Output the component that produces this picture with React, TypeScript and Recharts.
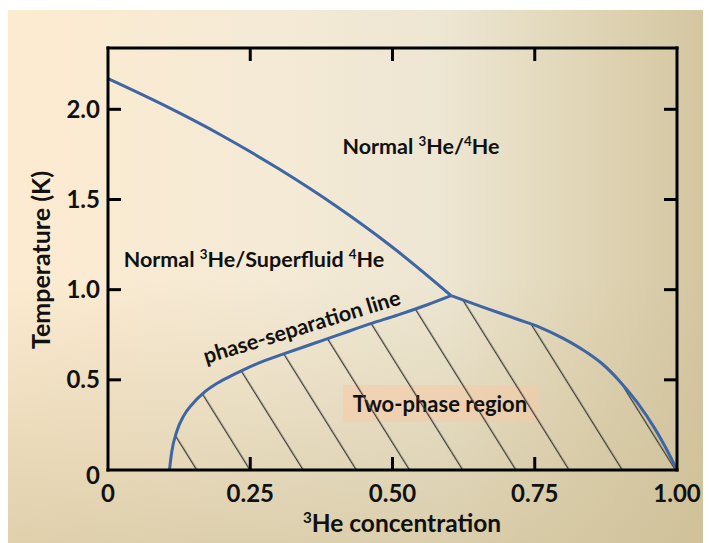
import React from 'react';
import {
  ComposedChart,
  Area,
  Line,
  XAxis,
  YAxis,
  Customized,
} from 'recharts';

// Axis ticks and their printed labels
const xTicks = [0, 0.25, 0.5, 0.75, 1];
const xTickLabels = ['0', '0.25', '0.50', '0.75', '1.00'];
const yTicks = [0, 0.5, 1, 1.5, 2];
const yTickLabels = ['0', '0.5', '1.0', '1.5', '2.0'];

// Lambda line: superfluid transition temperature vs 3He fraction
const lambdaLine = [
  { x: 0, t: 2.17 },
  { x: 0.1, t: 2.02 },
  { x: 0.2, t: 1.855 },
  { x: 0.3, t: 1.67 },
  { x: 0.4, t: 1.465 },
  { x: 0.5, t: 1.235 },
  { x: 0.603, t: 0.967 },
];

// Phase-separation line, 4He-rich branch (rises to the tricritical point)
const separationLeft = [
  { x: 0.108, t: 0 },
  { x: 0.112, t: 0.1 },
  { x: 0.121, t: 0.215 },
  { x: 0.133, t: 0.3 },
  { x: 0.148, t: 0.365 },
  { x: 0.167, t: 0.425 },
  { x: 0.189, t: 0.475 },
  { x: 0.212, t: 0.515 },
  { x: 0.238, t: 0.555 },
  { x: 0.27, t: 0.6 },
  { x: 0.31, t: 0.645 },
  { x: 0.36, t: 0.7 },
  { x: 0.41, t: 0.755 },
  { x: 0.46, t: 0.81 },
  { x: 0.51, t: 0.86 },
  { x: 0.56, t: 0.915 },
  { x: 0.603, t: 0.967 },
];

// Phase-separation line, 3He-rich branch (falls to pure 3He at T = 0)
const separationRight = [
  { x: 0.603, t: 0.967 },
  { x: 0.66, t: 0.902 },
  { x: 0.722, t: 0.833 },
  { x: 0.76, t: 0.79 },
  { x: 0.8, t: 0.73 },
  { x: 0.84, t: 0.655 },
  { x: 0.87, t: 0.585 },
  { x: 0.9, t: 0.49 },
  { x: 0.93, t: 0.375 },
  { x: 0.96, t: 0.235 },
  { x: 0.98, t: 0.125 },
  { x: 1.0, t: 0 },
];

const FONT = 'Lato, "Open Sans", sans-serif';
const INK = '#111';
const LINE_BLUE = '#3f66a4';
const FRAME = { stroke: '#000', strokeWidth: 3, strokeLinecap: 'square' as const };
const TICK_LEN = 13;
const X_MARGIN = 15;
const Y_MARGIN = 8;
const TICK_FONT = 24;

const W = 703;
const H = 535;

function BottomTick(props: any) {
  const { x, y, payload } = props;
  const i = xTicks.indexOf(payload.value);
  const axisY = y - X_MARGIN;
  const inner = i > 0 && i < xTicks.length - 1;
  return (
    <g>
      {inner && (
        <line x1={x} x2={x} y1={axisY} y2={axisY - TICK_LEN} stroke="#000" strokeWidth={3} />
      )}
      <text
        x={x}
        y={y}
        dy="0.71em"
        textAnchor="middle"
        fontFamily={FONT}
        fontWeight={700}
        fontSize={TICK_FONT}
        fill={INK}
      >
        {xTickLabels[i]}
      </text>
    </g>
  );
}

function LeftTick(props: any) {
  const { x, y, payload } = props;
  const i = yTicks.indexOf(payload.value);
  const axisX = x + Y_MARGIN;
  const inner = i > 0;
  return (
    <g>
      {inner && (
        <line x1={axisX} x2={axisX + TICK_LEN} y1={y} y2={y} stroke="#000" strokeWidth={3} />
      )}
      <text
        x={x}
        y={inner ? y : y + 5}
        dy="0.36em"
        textAnchor="end"
        fontFamily={FONT}
        fontWeight={700}
        fontSize={TICK_FONT}
        fill={INK}
      >
        {yTickLabels[i]}
      </text>
    </g>
  );
}

function TopTick(props: any) {
  const { x, y, payload } = props;
  const i = xTicks.indexOf(payload.value);
  if (i <= 0 || i >= xTicks.length - 1) return <g />;
  return <line x1={x} x2={x} y1={y} y2={y + TICK_LEN} stroke="#000" strokeWidth={3} />;
}

function RightTick(props: any) {
  const { x, y, payload } = props;
  const i = yTicks.indexOf(payload.value);
  if (i <= 0) return <g />;
  return <line x1={x} x2={x - TICK_LEN} y1={y} y2={y} stroke="#000" strokeWidth={3} />;
}

// Text with raised isotope numbers, e.g. parts = ['Normal ', ['3'], 'He/', ['4'], 'He']
function Iso({ parts, size }: { parts: (string | string[])[]; size: number }) {
  const out: React.ReactNode[] = [];
  let raised = false;
  parts.forEach((p, k) => {
    if (Array.isArray(p)) {
      out.push(
        <tspan key={k} fontSize={size * 0.62} dy={-size * 0.36}>
          {p[0]}
        </tspan>
      );
      raised = true;
    } else {
      out.push(
        <tspan key={k} dy={raised ? size * 0.36 : 0}>
          {p}
        </tspan>
      );
      raised = false;
    }
  });
  return <>{out}</>;
}

function Captions() {
  const common = { fontFamily: FONT, fontWeight: 700, fill: INK } as const;
  return (
    <g>
      <text {...common} x={413} y={146} fontSize={21.5} textAnchor="middle">
        <Iso size={21.5} parts={['Normal ', ['3'], 'He/', ['4'], 'He']} />
      </text>
      <text {...common} x={246} y={259} fontSize={21.5} textAnchor="middle">
        <Iso size={21.5} parts={['Normal ', ['3'], 'He/Superfluid ', ['4'], 'He']} />
      </text>
      <text
        {...common}
        x={296}
        y={326}
        fontSize={21.5}
        textAnchor="middle"
        transform="rotate(-17 296 326)"
      >
        phase-separation line
      </text>
      <rect x={335} y={377} width={194} height={37} fill="#f6cba6" fillOpacity={0.55} />
      <text {...common} x={432} y={404} fontSize={22} textAnchor="middle">
        Two-phase region
      </text>
      <text
        {...common}
        x={32}
        y={252}
        fontSize={25}
        textAnchor="middle"
        dominantBaseline="central"
        transform="rotate(-90 32 252)"
      >
        Temperature (K)
      </text>
      <text {...common} x={394} y={524} fontSize={24.5} textAnchor="middle">
        <Iso size={24.5} parts={[['3'], 'He concentration']} />
      </text>
    </g>
  );
}

export default function App() {
  return (
    <div style={{ position: 'relative', width: W, height: H, background: '#fff' }}>
      <div
        style={{
          position: 'absolute',
          left: 0,
          top: 2,
          right: 0,
          bottom: 0,
          background:
            'linear-gradient(to bottom, rgba(205,190,148,0) 50%, rgba(205,190,148,0.6) 100%), linear-gradient(to right, #fdebd0 0%, #f4ead6 40%, #ede6d2 62%, #e0d5b6 82%, #d3c5a0 100%)',
        }}
      />
      <div style={{ position: 'absolute', left: 0, top: 0 }}>
        <ComposedChart
          width={W}
          height={H}
          margin={{ top: 39, right: 33, bottom: 33, left: 40 }}
        >
          <defs>
            <pattern
              id="hatch"
              patternUnits="userSpaceOnUse"
              width={45.1}
              height={20}
              patternTransform="rotate(-32)"
            >
              <line x1={5.5} y1={-2} x2={5.5} y2={22} stroke="#3a3a3a" strokeWidth={1.3} />
            </pattern>
          </defs>
          <XAxis
            xAxisId="bottom"
            dataKey="x"
            type="number"
            domain={[0, 1]}
            allowDataOverflow
            ticks={xTicks}
            interval={0}
            height={40}
            tickSize={0}
            tickMargin={X_MARGIN}
            tickLine={false}
            axisLine={FRAME}
            tick={<BottomTick />}
          />
          <XAxis
            xAxisId="top"
            orientation="top"
            dataKey="x"
            type="number"
            domain={[0, 1]}
            allowDataOverflow
            ticks={xTicks}
            interval={0}
            height={1}
            tickSize={0}
            tickMargin={0}
            tickLine={false}
            axisLine={FRAME}
            tick={<TopTick />}
          />
          <YAxis
            yAxisId="left"
            type="number"
            domain={[0, 2.34]}
            allowDataOverflow
            ticks={yTicks}
            interval={0}
            width={60}
            tickSize={0}
            tickMargin={Y_MARGIN}
            tickLine={false}
            axisLine={FRAME}
            tick={<LeftTick />}
          />
          <YAxis
            yAxisId="right"
            orientation="right"
            type="number"
            domain={[0, 2.34]}
            allowDataOverflow
            ticks={yTicks}
            interval={0}
            width={1}
            tickSize={0}
            tickMargin={0}
            tickLine={false}
            axisLine={FRAME}
            tick={<RightTick />}
          />
          <Area
            xAxisId="bottom"
            yAxisId="left"
            data={separationLeft}
            dataKey="t"
            type="monotone"
            fill="url(#hatch)"
            fillOpacity={1}
            stroke={LINE_BLUE}
            strokeWidth={3}
            dot={false}
            activeDot={false}
            isAnimationActive={false}
          />
          <Area
            xAxisId="bottom"
            yAxisId="left"
            data={separationRight}
            dataKey="t"
            type="monotone"
            fill="url(#hatch)"
            fillOpacity={1}
            stroke={LINE_BLUE}
            strokeWidth={3}
            dot={false}
            activeDot={false}
            isAnimationActive={false}
          />
          <Line
            xAxisId="bottom"
            yAxisId="left"
            data={lambdaLine}
            dataKey="t"
            type="monotone"
            stroke={LINE_BLUE}
            strokeWidth={3}
            dot={false}
            activeDot={false}
            isAnimationActive={false}
          />
          {/* same curve bound to the frame axes so they get a scale; drawn without stroke */}
          <Line
            xAxisId="top"
            yAxisId="right"
            data={lambdaLine}
            dataKey="t"
            stroke="none"
            dot={false}
            activeDot={false}
            legendType="none"
            isAnimationActive={false}
          />
          <Customized component={<Captions />} />
        </ComposedChart>
      </div>
    </div>
  );
}
